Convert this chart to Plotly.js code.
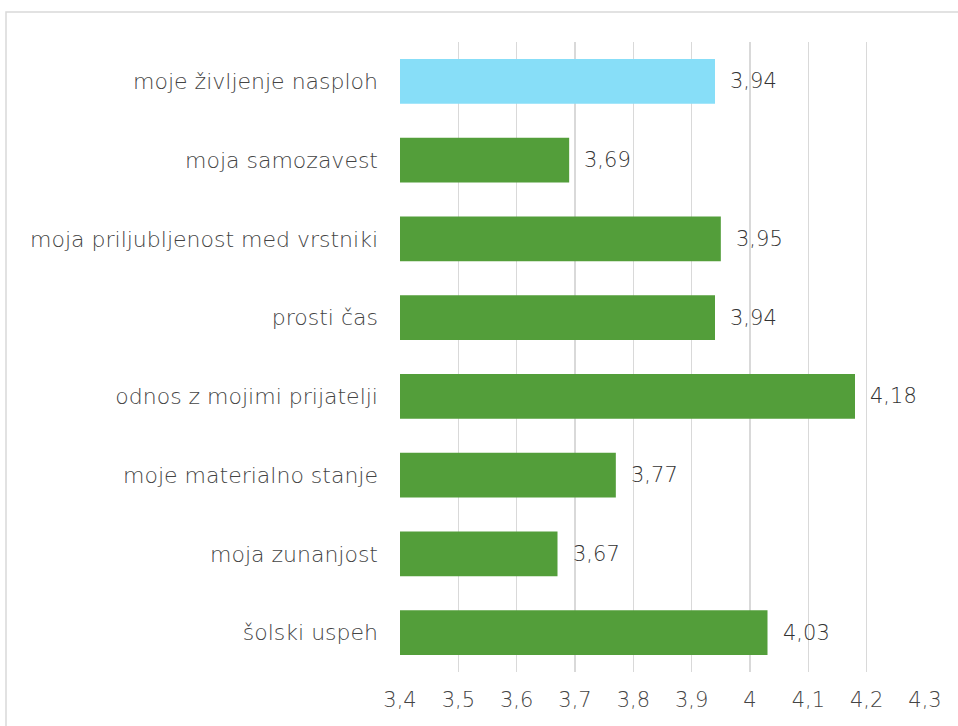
<!DOCTYPE html>
<html><head><meta charset="utf-8">
<script src="https://cdn.plot.ly/plotly-3.0.1.min.js"></script>
<style>body{margin:0;background:#fff}#chart{width:958px;height:726px}</style>
</head><body><div id="chart"></div>
<script>
const categories = ["moje življenje nasploh","moja samozavest","moja priljubljenost med vrstniki","prosti čas","odnos z mojimi prijatelji","moje materialno stanje","moja zunanjost","šolski uspeh"];
const values = [3.94,3.69,3.95,3.94,4.18,3.77,3.67,4.03];
const valueLabels = ["3,94","3,69","3,95","3,94","4,18","3,77","3,67","4,03"];
const barColors = ["#87DEF8","#539E3A","#539E3A","#539E3A","#539E3A","#539E3A","#539E3A","#539E3A"];
const tickVals = [3.4,3.5,3.6,3.7,3.8,3.9,4.0,4.1,4.2,4.3];
const tickText = ["3,4","3,5","3,6","3,7","3,8","3,9","4","4,1","4,2","4,3"];

const FONT = "DejaVu Sans, sans-serif";
const data = [{
  type:"bar", orientation:"h", y:categories, base:3.4,
  x: values.map(v=>v-3.4),
  marker:{color:barColors}, width:0.57, hoverinfo:"none"
}];
const annotations = values.map((v,i)=>({
  x:v, y:categories[i], xref:"x", yref:"y", text:valueLabels[i], showarrow:false,
  xanchor:"left", xshift:13, font:{family:FONT,size:21,color:"#333333",weight:300}
}));
const layout = {
  width:958, height:726, margin:{l:400,r:33,t:42,b:54},
  paper_bgcolor:"#fff", plot_bgcolor:"#fff", showlegend:false,
  xaxis:{range:[3.4,4.3], tickvals:tickVals, ticktext:tickText, showgrid:true, gridcolor:"#d9d9d9", gridwidth:1.5,
    zeroline:false, showline:false, ticks:"", tickfont:{family:FONT,size:21,color:"#444444",weight:300}, ticklabelstandoff:13, fixedrange:true},
  yaxis:{type:"category", autorange:"reversed", showgrid:false, zeroline:false, showline:false, ticks:"",
    tickfont:{family:FONT,size:22,color:"#444444",weight:300}, ticklabelstandoff:21, fixedrange:true},
  annotations:annotations,
  shapes:[{type:"rect", xref:"paper", yref:"paper", x0:(6-400)/525, x1:(990-400)/525, y0:(672-760)/630, y1:(672-12)/630,
    line:{color:"#d9d9d9",width:1.5}, fillcolor:"rgba(0,0,0,0)", layer:"below"}]
};
Plotly.newPlot("chart", data, layout, {displayModeBar:false, staticPlot:true});
</script></body></html>
